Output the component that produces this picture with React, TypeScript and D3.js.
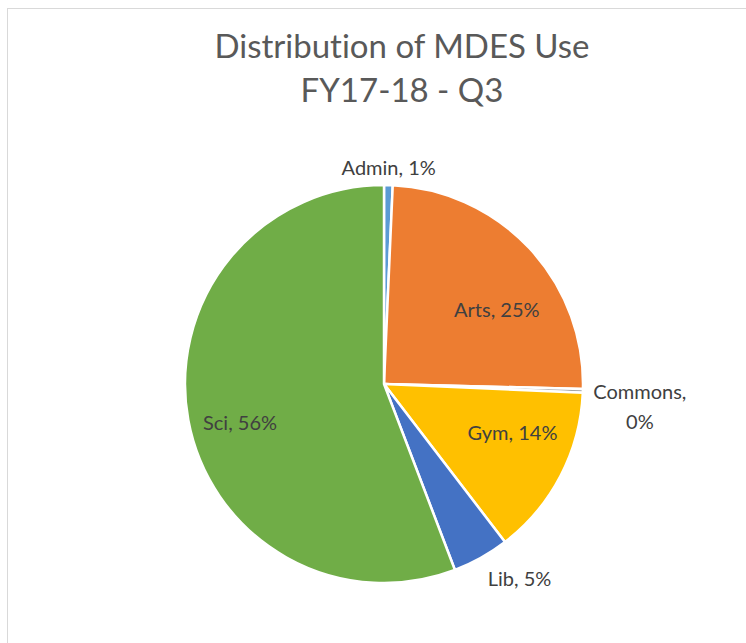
import React, { useEffect, useRef } from "react";
import * as d3 from "d3";

// slice data (percent of total)
const categories = ["Admin", "Arts", "Commons", "Gym", "Lib", "Sci"];
const values = [0.7, 24.7, 0.3, 13.9, 4.6, 55.8];
const percentLabels = ["1%", "25%", "0%", "14%", "5%", "56%"];
const colors = ["#5B9BD5", "#ED7D31", "#A5A5A5", "#FFC000", "#4472C4", "#70AD47"];
const outsideLabels = ["Admin", "Commons", "Lib"];
const wrappedLabels = ["Commons"];
const titleLines = ["Distribution of MDES Use", "FY17-18 - Q3"];

const App = () => {
  const ref = useRef<SVGSVGElement>(null);

  useEffect(() => {
    const width = 746;
    const height = 643;
    const cx = 384;
    const cy = 384;
    const radius = 199;
    const font = "Lato, 'Open Sans', sans-serif";

    // Excel "best fit" moves inside labels a bit off the centroid
    const nudge: Record<string, [number, number]> = {
      Arts: [11, 21],
      Gym: [5, -15],
      Sci: [-7, 14],
    };

    const svg = d3.select(ref.current);
    svg.selectAll("*").remove();

    svg.append("rect").attr("width", width).attr("height", height).attr("fill", "#fff");

    // chart frame (runs off the right and bottom)
    svg
      .append("rect")
      .attr("x", 7.5)
      .attr("y", 8.5)
      .attr("width", width + 20)
      .attr("height", height + 20)
      .attr("fill", "none")
      .attr("stroke", "#d9d9d9")
      .attr("stroke-width", 1);

    // title
    svg
      .append("g")
      .selectAll("text")
      .data(titleLines)
      .enter()
      .append("text")
      .attr("x", 402)
      .attr("y", (d, i) => 58 + i * 44)
      .attr("text-anchor", "middle")
      .style("font-family", font)
      .style("font-size", "33px")
      .style("font-variant-ligatures", "none")
      .attr("fill", "#595959")
      .text((d) => d);

    const data = categories.map((c, i) => ({ name: c, value: values[i], pct: percentLabels[i], color: colors[i] }));

    const pie = d3
      .pie<any>()
      .sort(null)
      .value((d) => d.value);

    const arc = d3.arc<any>().innerRadius(0).outerRadius(radius);

    const g = svg.append("g").attr("transform", `translate(${cx},${cy})`);

    const arcs = pie(data);

    g.selectAll("path")
      .data(arcs)
      .enter()
      .append("path")
      .attr("d", arc)
      .attr("fill", (d) => d.data.color)
      .attr("stroke", "#fff")
      .attr("stroke-width", 2.5)
      .attr("stroke-linejoin", "round");

    // labels
    arcs.forEach((d) => {
      const mid = (d.startAngle + d.endAngle) / 2;
      const outside = outsideLabels.includes(d.data.name);
      const wrapped = wrappedLabels.includes(d.data.name);
      const r = outside ? radius + 14 : radius * 0.7;
      const [nx, ny] = nudge[d.data.name] || [0, 0];
      const x = Math.sin(mid) * r + nx;
      const y = -Math.cos(mid) * r + ny;
      const lines = wrapped ? [d.data.name + ",", d.data.pct] : [`${d.data.name}, ${d.data.pct}`];

      let anchor = "middle";
      let yOffset = 7;
      if (outside) {
        const s = Math.sin(mid);
        const c = Math.cos(mid);
        if (s > 0.3) anchor = "start";
        else if (s < -0.3) anchor = "end";
        if (c > 0.5) yOffset = 4;
        else if (c < -0.5) yOffset = 16;
        else yOffset = 8;
      }

      const t = g
        .append("text")
        .attr("text-anchor", anchor)
        .style("font-family", font)
        .style("font-size", "20px")
        .style("font-variant-ligatures", "none")
        .attr("fill", "#404040");

      lines.forEach((line, i) => {
        t.append("tspan")
          .attr("x", wrapped ? x + 43 : x)
          .attr("y", y + yOffset + i * 30)
          .attr("text-anchor", wrapped ? "middle" : anchor)
          .text(line);
      });
    });
  }, []);

  return (
    <svg
      ref={ref}
      width={746}
      height={643}
      style={{ position: "absolute", left: 0, top: 0, display: "block" }}
    />
  );
};

export default App;
